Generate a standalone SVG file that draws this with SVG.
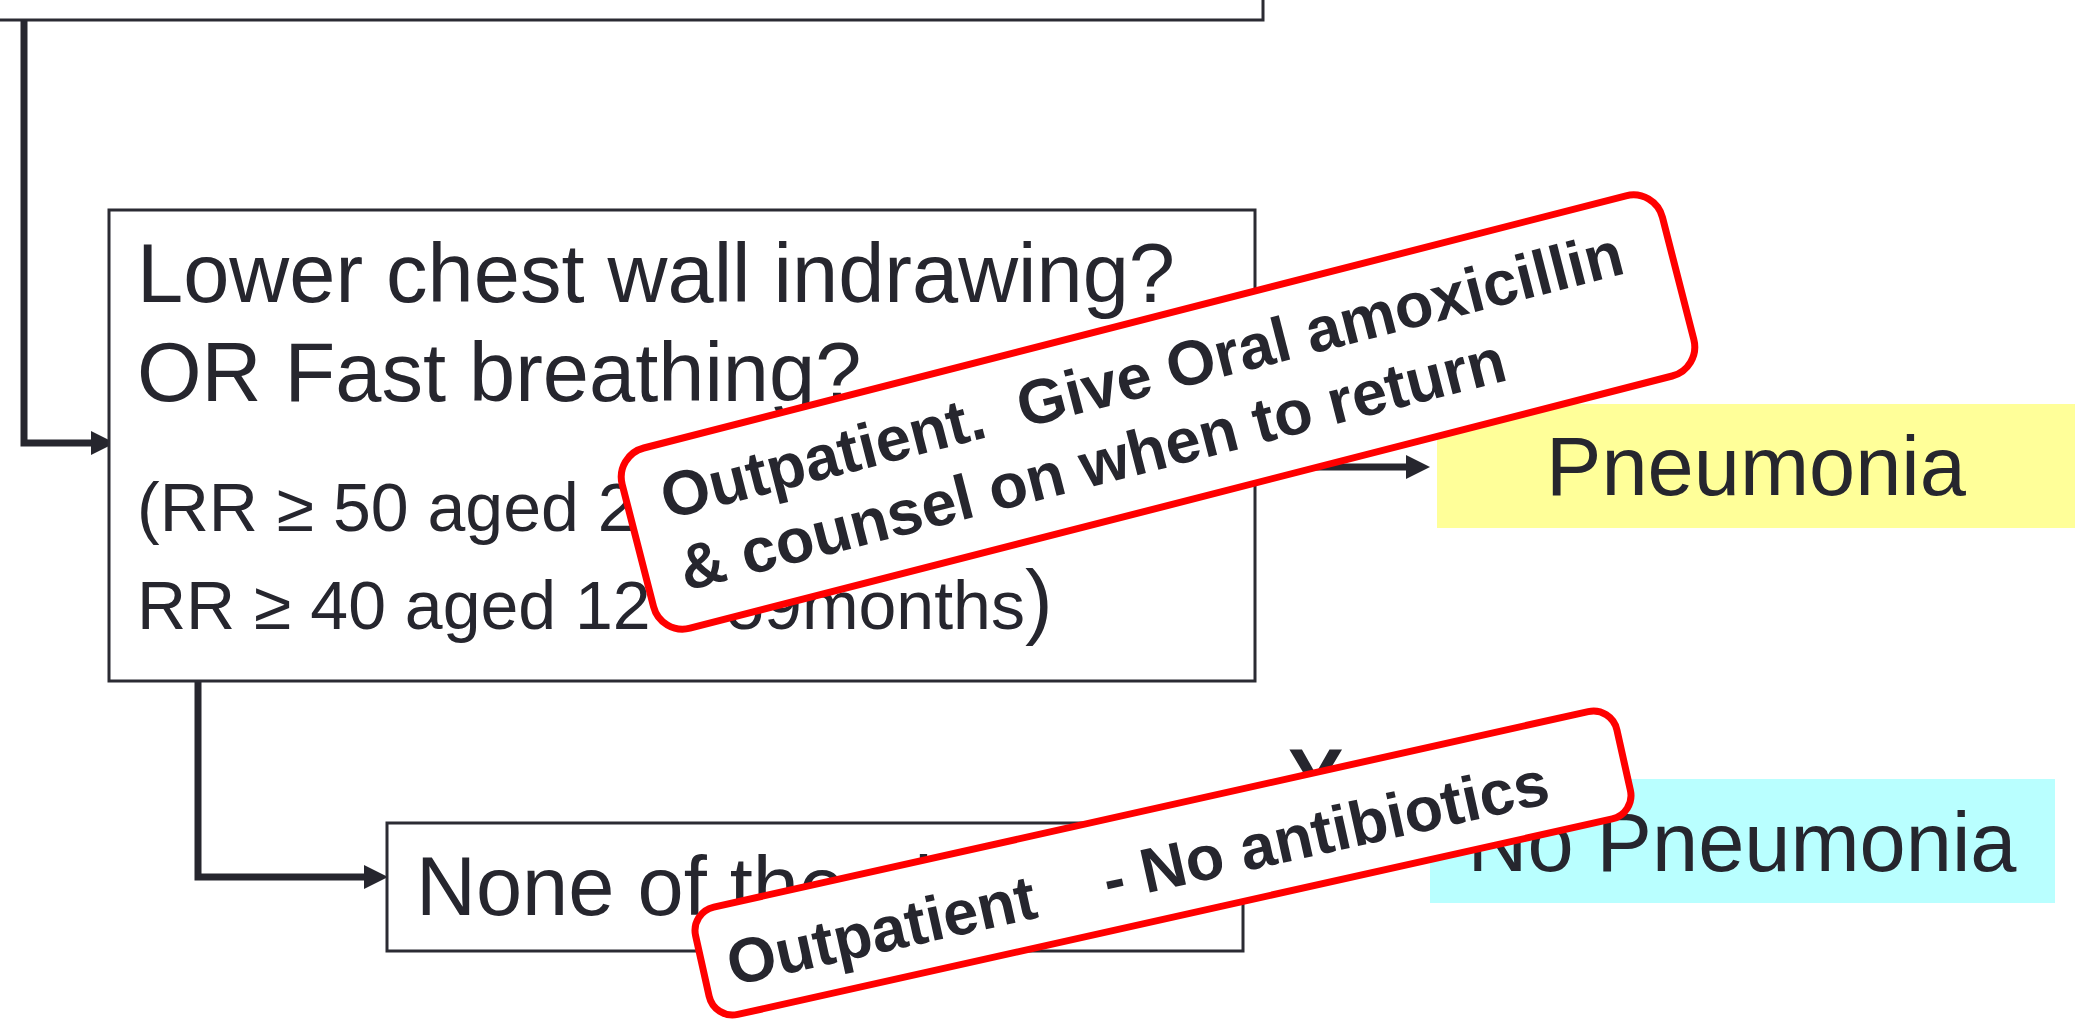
<svg xmlns="http://www.w3.org/2000/svg" width="2083" height="1035" viewBox="0 0 2083 1035">
<style>
.box{fill:#fff;stroke:#2b2b33;stroke-width:3}
.t{font-family:"Liberation Sans",Arial,sans-serif;fill:#26262e}
.big{font-size:83px}
.small{font-size:68px}
.conn{fill:none;stroke:#26262e;stroke-width:7}
.callout{fill:#fff;stroke:#f00;stroke-width:7}
.ct{font-family:"Liberation Sans",Arial,sans-serif;font-weight:bold;font-size:63px;fill:#26262e;white-space:pre}
</style>
<defs>
<marker id="arr" markerUnits="userSpaceOnUse" markerWidth="24" markerHeight="24" viewBox="0 0 24 24" refX="10" refY="12" orient="auto">
<path d="M0,0 L24,12 L0,24 Z" fill="#26262e"/>
</marker>
</defs>
<rect width="2083" height="1035" fill="#fff"/>
<g id="top-box"><rect class="box" x="-10" y="-100" width="1273" height="120"/></g>
<g id="connectors">
<path class="conn" d="M24,20 V443 H101" marker-end="url(#arr)"/>
<path class="conn" d="M1255,467 H1416" marker-end="url(#arr)"/>
<path class="conn" d="M198,681 V877 H374" marker-end="url(#arr)"/>
</g>
<g id="criteria-box">
<rect class="box" x="109" y="210" width="1146" height="471"/>
<text class="t big" x="137" y="302">Lower chest wall indrawing?</text>
<text class="t big" x="137" y="401">OR Fast breathing?</text>
<text class="t small" x="137" y="531">(RR ≥ 50 aged 2 – 11months</text>
<text class="t small" x="137" y="629">RR ≥ 40 aged 12 – 59months<tspan style="font-size:83px">)</tspan></text>
</g>
<g id="none-box">
<rect class="box" x="387" y="823" width="856" height="128"/>
<text class="t big" x="416" y="915">None of the above</text>
</g>
<g id="pneumonia">
<rect x="1437" y="404" width="638" height="124" fill="#ffff99"/>
<text class="t big" x="1756" y="495" text-anchor="middle">Pneumonia</text>
</g>
<g id="no-pneumonia">
<rect x="1430" y="779" width="625" height="124" fill="#b9ffff"/>
<text class="t big" x="1742" y="871" text-anchor="middle">No Pneumonia</text>
</g>
<g id="yes-label"><text class="t big" x="1288" y="807" font-weight="bold">Y</text></g>
<g id="callout-oral" transform="translate(1158,412) rotate(-14.4)">
<rect class="callout" x="-537" y="-93" width="1074" height="186" rx="30"/>
<text class="ct" x="-502" y="-18">Outpatient.  Give Oral amoxicillin</text>
<text class="ct" x="-502" y="56">&amp; counsel on when to return</text>
</g>
<g id="callout-none" transform="translate(1163,863) rotate(-12.6)">
<rect class="callout" x="-472" y="-55" width="944" height="110" rx="24"/>
<text class="ct" x="-447" y="26">Outpatient    - No antibiotics</text>
</g>
</svg>
